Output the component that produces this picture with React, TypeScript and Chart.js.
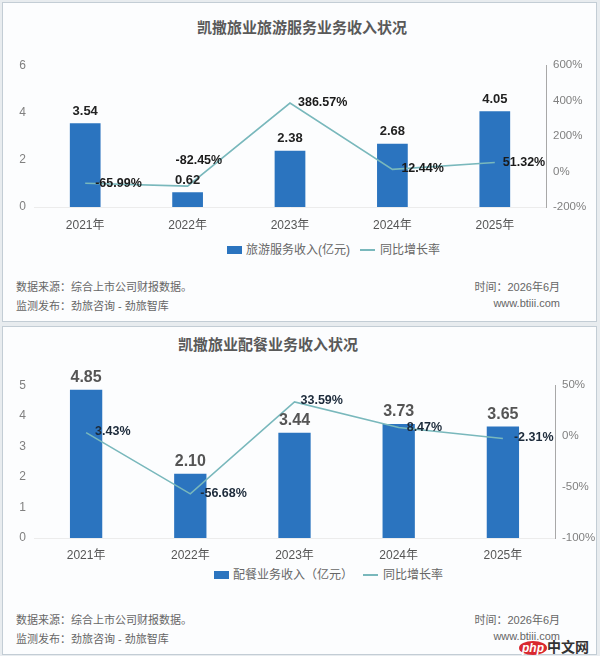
import React, { useEffect, useRef } from "react";
import { Chart, registerables } from "chart.js";

Chart.register(...registerables);

const years = ["2021年", "2022年", "2023年", "2024年", "2025年"];

const tourRevenue = [3.54, 0.62, 2.38, 2.68, 4.05];
const tourGrowth = [-65.99, -82.45, 386.57, 12.44, 51.32];

const cateringRevenue = [4.85, 2.1, 3.44, 3.73, 3.65];
const cateringGrowth = [3.43, -56.68, 33.59, 8.47, -2.31];

const FONT = '"Liberation Sans", "Noto Sans CJK SC", sans-serif';
const BAR_COLOR = "#2b74bf";
const LINE_COLOR = "#79b8bc";

const labelPlugin = {
  id: "valueLabels",
  afterDatasetsDraw(chart: any, _args: any, opts: any) {
    const ctx = chart.ctx;
    (opts.sets || []).forEach((cfg: any) => {
      const di = cfg.dataset;
      const meta = chart.getDatasetMeta(di);
      const ds = chart.data.datasets[di];
      meta.data.forEach((el: any, i: number) => {
        const v = ds.data[i];
        const text = cfg.format(v);
        const off = cfg.offsets ? cfg.offsets[i] : cfg.offset;
        ctx.save();
        ctx.font = cfg.font;
        ctx.fillStyle = cfg.color;
        ctx.textAlign = cfg.align;
        ctx.textBaseline = "middle";
        ctx.fillText(text, el.x + off[0], el.y + off[1]);
        ctx.restore();
      });
    });
  },
};

type ChartProps = {
  top: number;
  height: number;
  padTop: number;
  rightWidth: number;
  xPad: number;
  bars: number[];
  line: number[];
  yMax: number;
  yStep: number;
  rMin: number;
  rMax: number;
  rStep: number;
  barLabelFont: string;
  barLabelColor: string;
  barLabelFmt: (v: number) => string;
  lineLabelFont: string;
  lineLabelColor: string;
  lineOffsets: number[][];
  barPct: number;
};

function ComboChart(p: ChartProps) {
  const ref = useRef<HTMLCanvasElement | null>(null);
  useEffect(() => {
    if (!ref.current) return;
    const chart = new Chart(ref.current, {
      type: "bar",
      data: {
        labels: years,
        datasets: [
          {
            type: "line",
            data: p.line,
            yAxisID: "y1",
            borderColor: LINE_COLOR,
            borderWidth: 1.6,
            pointRadius: 0,
            tension: 0,
            order: 0,
          } as any,
          {
            type: "bar",
            data: p.bars,
            yAxisID: "y",
            backgroundColor: BAR_COLOR,
            categoryPercentage: 1,
            barPercentage: p.barPct,
            order: 1,
          },
        ],
      },
      options: {
        responsive: false,
        animation: false,
        layout: { padding: { top: p.padTop, left: 0, right: 0, bottom: 0 } },
        plugins: {
          legend: { display: false },
          tooltip: { enabled: false },
          valueLabels: {
            sets: [
              {
                dataset: 1,
                font: p.barLabelFont,
                color: p.barLabelColor,
                align: "center",
                offset: [0, -12],
                format: p.barLabelFmt,
              },
              {
                dataset: 0,
                font: p.lineLabelFont,
                color: p.lineLabelColor,
                align: "left",
                offsets: p.lineOffsets,
                format: (v: number) => v.toFixed(2) + "%",
              },
            ],
          },
        } as any,
        scales: {
          x: {
            grid: { display: false, drawTicks: false },
            border: { display: true, color: "#ececec" },
            ticks: {
              padding: p.xPad,
              color: "#555",
              font: { size: 12, family: FONT },
            },
            afterFit: (s: any) => {
              s.height = 28;
            },
          },
          y: {
            position: "left",
            min: 0,
            max: p.yMax,
            grid: { display: false, drawTicks: false },
            border: { display: false },
            ticks: {
              stepSize: p.yStep,
              padding: 8,
              color: "#808080",
              font: { size: 12, family: FONT },
            },
            afterFit: (s: any) => {
              s.width = 34;
            },
          },
          y1: {
            position: "right",
            min: p.rMin,
            max: p.rMax,
            grid: { display: false, drawTicks: false },
            border: { display: true, color: "#a8a8a8" },
            ticks: {
              stepSize: p.rStep,
              padding: 7,
              color: "#808080",
              font: { size: 11.5, family: FONT },
              callback: (v: any) => v + "%",
            },
            afterFit: (s: any) => {
              s.width = p.rightWidth;
            },
          },
        },
      },
      plugins: [labelPlugin as any],
    });
    return () => chart.destroy();
  }, []);
  return (
    <canvas
      ref={ref}
      width={600}
      height={p.height}
      style={{ position: "absolute", left: 0, top: p.top, width: 600, height: p.height }}
    />
  );
}

const textStyle: React.CSSProperties = {
  position: "absolute",
  fontFamily: FONT,
  whiteSpace: "nowrap",
  lineHeight: "14px",
};

function Legend({ top, left, barText }: { top: number; left: number; barText: string }) {
  return (
    <div style={{ ...textStyle, top: top - 8, left, fontSize: 12, color: "#666", display: "flex", alignItems: "center", lineHeight: "16px" }}>
      <span style={{ display: "inline-block", width: 15, height: 8, background: BAR_COLOR, marginRight: 4 }} />
      <span>{barText}</span>
      <span style={{ display: "inline-block", width: 15, height: 2, background: LINE_COLOR, marginLeft: 10, marginRight: 5 }} />
      <span>同比增长率</span>
    </div>
  );
}

function Footer({ top }: { top: number }) {
  return (
    <>
      <div style={{ ...textStyle, top: top - 7, left: 16, fontSize: 11, color: "#666" }}>
        数据来源：综合上市公司财报数据。
      </div>
      <div style={{ ...textStyle, top: top + 12, left: 16, fontSize: 11, color: "#666" }}>
        监测发布：劲旅咨询 - 劲旅智库
      </div>
      <div style={{ ...textStyle, top: top - 7, right: 40, fontSize: 11, color: "#666", textAlign: "right" }}>
        时间：2026年6月
      </div>
      <div style={{ ...textStyle, top: top + 9, right: 40, fontSize: 11, color: "#666", textAlign: "right" }}>
        www.btiii.com
      </div>
    </>
  );
}

export default function App() {
  return (
    <div style={{ position: "absolute", left: 0, top: 0, width: 600, height: 656, background: "#e8ecef", overflow: "hidden" }}>
      <div style={{ position: "absolute", left: 2, top: 2, width: 595, height: 320, boxSizing: "border-box", border: "1px solid #c3cdd5", background: "#fcfdfe" }} />
      <div style={{ position: "absolute", left: 2, top: 326, width: 595, height: 329, boxSizing: "border-box", border: "1px solid #c3cdd5", background: "#fcfdfe" }} />

      <div style={{ ...textStyle, top: 19, left: 0, width: 604, textAlign: "center", fontSize: 15, fontWeight: "bold", color: "#595959", lineHeight: "18px" }}>
        凯撒旅业旅游服务业务收入状况
      </div>
      <ComboChart
        top={50}
        height={185}
        padTop={12}
        rightWidth={54}
        xPad={11}
        bars={tourRevenue}
        line={tourGrowth}
        yMax={6}
        yStep={2}
        rMin={-200}
        rMax={600}
        rStep={200}
        barLabelFont={'bold 13px ' + FONT}
        barLabelColor="#222"
        barLabelFmt={(v) => v.toFixed(2)}
        lineLabelFont={'bold 12.5px ' + FONT}
        lineLabelColor="#1a1a1a"
        lineOffsets={[[10, 0], [-12, -26], [8, 0], [9, -1], [8, 0]]}
        barPct={0.3}
      />
      <Legend top={250} left={227} barText="旅游服务收入(亿元)" />
      <Footer top={287} />

      <div style={{ ...textStyle, top: 336, left: 0, width: 536, textAlign: "center", fontSize: 15, fontWeight: "bold", color: "#595959", lineHeight: "18px" }}>
        凯撒旅业配餐业务收入状况
      </div>
      <ComboChart
        top={370}
        height={196}
        padTop={13}
        rightWidth={45}
        xPad={10}
        bars={cateringRevenue}
        line={cateringGrowth}
        yMax={5}
        yStep={1}
        rMin={-100}
        rMax={50}
        rStep={50}
        barLabelFont={'bold 16px ' + FONT}
        barLabelColor="#555"
        barLabelFmt={(v) => v.toFixed(2)}
        lineLabelFont={'bold 12.5px ' + FONT}
        lineLabelColor="#1c2a3a"
        lineOffsets={[[9, -1], [10, 0], [6, -1], [8, 0], [11, -1]]}
        barPct={0.31}
      />
      <Legend top={575} left={214} barText="配餐业务收入（亿元）" />
      <Footer top={620} />
      <div style={{ ...textStyle, top: 639, left: 519, fontSize: 14, fontWeight: "bold", color: "#333", lineHeight: "16px" }}>
        <span style={{ background: "#d9282f", color: "#fff", borderRadius: "50%", padding: "0 3px", fontStyle: "italic", fontSize: 12 }}>php</span>中文网
      </div>
    </div>
  );
}
